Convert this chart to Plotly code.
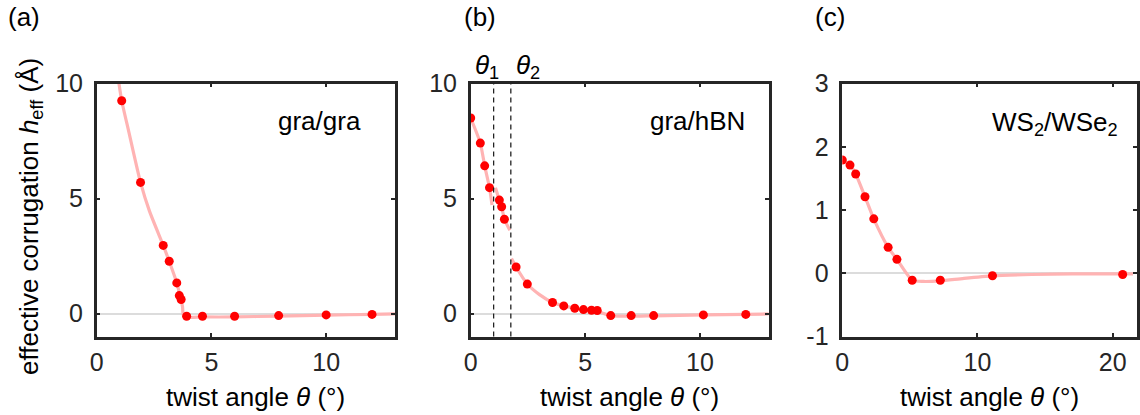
import plotly.graph_objects as go

# ---- data: effective corrugation vs twist angle ----
# (a) gra/gra
a_theta = [1.09, 1.91, 2.90, 3.16, 3.49, 3.60, 3.68, 3.92, 4.61, 6.01, 7.93, 10.0, 12.0]
a_h = [9.25, 5.70, 2.96, 2.27, 1.33, 0.78, 0.61, -0.12, -0.12, -0.12, -0.09, -0.06, -0.04]
a_fit_theta = [0.97, 1.09, 1.4, 1.91, 2.3, 2.9, 3.16, 3.49, 3.65, 3.74, 3.80, 4.6, 6.0, 7.9, 10.0, 12.0, 13.0]
a_fit_h = [10.0, 9.25, 7.9, 5.70, 4.45, 2.96, 2.27, 1.33, 0.7, 0.3, -0.14, -0.15, -0.15, -0.11, -0.07, -0.04, -0.02]

# (b) gra/hBN
b_theta = [0.0, 0.42, 0.61, 0.82, 1.25, 1.35, 1.47, 1.98, 2.47, 3.57, 4.06, 4.54, 4.92, 5.27,
           5.52, 6.11, 7.00, 7.98, 10.15, 12.0]
b_h = [8.50, 7.41, 6.42, 5.47, 4.93, 4.64, 4.10, 2.02, 1.28, 0.48, 0.33, 0.23, 0.17, 0.14,
       0.13, -0.09, -0.09, -0.09, -0.06, -0.04]
b_fit1_theta = [0.0, 0.42, 0.61, 0.82, 0.93]
b_fit1_h = [8.5, 7.41, 6.42, 5.47, 4.72]
b_fit2_theta = [1.08, 1.25, 1.35, 1.47, 1.71]
b_fit2_h = [5.47, 4.93, 4.64, 4.10, 3.62]
b_fit3_theta = [1.78, 1.98, 2.47, 3.0, 3.57, 4.06, 4.54, 4.92, 5.27, 5.52, 5.8, 6.11, 7.0, 7.98,
                10.15, 12.0, 13.0]
b_fit3_h = [2.39, 2.02, 1.28, 0.82, 0.48, 0.33, 0.23, 0.17, 0.14, 0.12, 0.0, -0.09, -0.12, -0.1,
            -0.06, -0.04, -0.02]
theta_1 = 1.0
theta_2 = 1.75

# (c) WS2/WSe2
c_theta = [0.0, 0.57, 0.99, 1.68, 2.33, 3.39, 4.04, 5.17, 7.25, 11.11, 20.74]
c_h = [1.79, 1.71, 1.57, 1.21, 0.86, 0.41, 0.22, -0.11, -0.11, -0.04, -0.02]
c_fit_theta = [0.0, 0.57, 0.99, 1.68, 2.33, 3.39, 4.04, 5.17, 6.0, 7.25, 9.0, 11.11, 14.0, 17.0,
               20.74, 21.5]
c_fit_h = [1.79, 1.71, 1.57, 1.21, 0.86, 0.41, 0.22, -0.11, -0.13, -0.12, -0.08, -0.04, -0.02,
           -0.01, -0.01, -0.01]

# ---- styling ----
W, H = 1140, 415
FONT = "Liberation Sans, Arial, sans-serif"
AX = "#262626"
FIT = "#ffb3b3"
DOT = "#ff0000"
TICK_SIZE = 25
TEXT_SIZE = 26


def fx(px):
    return px / W


def fy(py):
    return 1 - py / H


fig = go.Figure()


def add_fit(xs, ys, ax):
    fig.add_trace(go.Scatter(x=xs, y=ys, mode="lines", xaxis="x" + ax, yaxis="y" + ax,
                             line=dict(color=FIT, width=3.2, shape="spline", smoothing=0.6),
                             hoverinfo="skip", showlegend=False))


def add_dots(xs, ys, ax):
    fig.add_trace(go.Scatter(x=xs, y=ys, mode="markers", xaxis="x" + ax, yaxis="y" + ax,
                             marker=dict(color=DOT, size=9), showlegend=False))


add_fit(a_fit_theta, a_fit_h, "")
add_dots(a_theta, a_h, "")
for xs, ys in [(b_fit1_theta, b_fit1_h), (b_fit2_theta, b_fit2_h), (b_fit3_theta, b_fit3_h)]:
    add_fit(xs, ys, "2")
add_dots(b_theta, b_h, "2")
add_fit(c_fit_theta, c_fit_h, "3")
add_dots(c_theta, c_h, "3")

# dashed markers of the two critical angles in (b)
for t in (theta_1, theta_2):
    fig.add_shape(type="line", xref="x2", yref="y2 domain", x0=t, x1=t, y0=0, y1=1,
                  line=dict(color="#222222", width=1.3, dash="5px,4px"))

y_dom = [fy(336.5), fy(83.5)]
x_doms = [[fx(96.7), fx(395.0)], [fx(470.7), fx(768.7)], [fx(842.3), fx(1137.0)]]


def xaxis(dom, rng, tv, anchor):
    return dict(domain=dom, range=rng, anchor=anchor, tickvals=tv, ticks="inside", ticklen=4,
                tickwidth=2, tickcolor=AX, showline=True, linecolor=AX, linewidth=2.5,
                mirror="ticks", showgrid=False, zeroline=False, ticklabelstandoff=2,
                automargin=False,
                tickfont=dict(family=FONT, size=TICK_SIZE, color="#262626"))


def yaxis(rng, tv, tt, anchor):
    return dict(domain=y_dom, range=rng, anchor=anchor, tickvals=tv, ticktext=tt, ticks="inside",
                ticklen=4, tickwidth=2, tickcolor=AX, showline=True, linecolor=AX, linewidth=2.5,
                mirror="ticks", showgrid=False, zeroline=True, zerolinecolor="#dcdcdc",
                zerolinewidth=1.5, ticklabelstandoff=6, automargin=False,
                tickfont=dict(family=FONT, size=TICK_SIZE, color="#262626"))


fig.update_layout(
    template="none",
    width=W, height=H, margin=dict(l=0, r=0, t=0, b=0, pad=0, autoexpand=False),
    paper_bgcolor="white", plot_bgcolor="white",
    xaxis=xaxis(x_doms[0], [0, 13], [0, 5, 10], "y"),
    yaxis=yaxis([-1, 10], [0, 5, 10], ["0", "5", "10"], "x"),
    xaxis2=xaxis(x_doms[1], [0, 13], [0, 5, 10], "y2"),
    yaxis2=yaxis([-1, 10], [0, 5, 10], ["0", "5", "10"], "x2"),
    xaxis3=xaxis(x_doms[2], [0, 21.8], [0, 10, 20], "y3"),
    yaxis3=yaxis([-1, 3], [-1, 0, 1, 2, 3], ["-1", "0", "1", "2", "3"], "x3"),
)


def text(s, x, y, xa="center", ya="middle", size=TEXT_SIZE, angle=0):
    fig.add_annotation(text=s, x=fx(x), y=fy(y), xref="paper", yref="paper", xanchor=xa,
                       yanchor=ya, showarrow=False, textangle=angle,
                       font=dict(family=FONT, size=size, color="black"))


# axis titles
xt = "twist angle <i>θ</i> (°)"
text(xt, 255.5, 397)
text(xt, 629, 397)
text(xt, 989, 397)
text("effective corrugation <i>h</i><sub>eff</sub> (Å)", 30, 217, angle=-90)

# panel letters
text("(a)", 24, 17)
text("(b)", 480, 17)
text("(c)", 830, 17)

# system labels
text("gra/gra", 363, 121, xa="right")
text("gra/hBN", 747, 121, xa="right")
text("WS<sub>2</sub>/WSe<sub>2</sub>", 1120, 123, xa="right")

# critical angle labels
text("<i>θ</i><sub>1</sub>", 486.5, 66)
text("<i>θ</i><sub>2</sub>", 527.5, 66)

fig.write_html("out.html")
